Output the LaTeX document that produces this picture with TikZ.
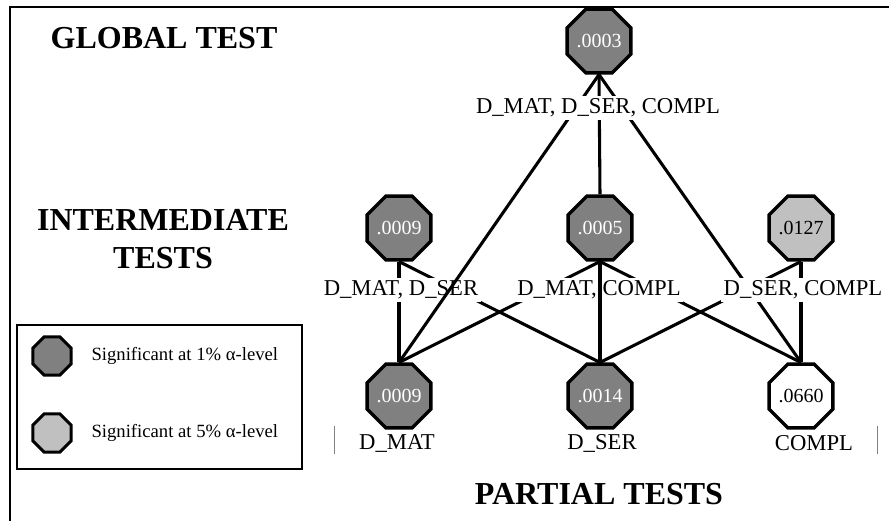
\documentclass[tikz,border=0pt]{standalone}
\usepackage{fontspec}
\setmainfont{Liberation Serif}
\usepackage{tikz}
\usetikzlibrary{shapes.geometric}

\definecolor{sigone}{RGB}{128,128,128}
\definecolor{sigfive}{RGB}{192,192,192}

\begin{document}
\begin{tikzpicture}[x=0.75pt,y=-0.75pt,node distance=150.75pt,line width=2.3pt,
			main node/.style={regular polygon,regular polygon sides=8,draw,line width=2.6pt,inner sep=0pt,minimum size=42pt,font=\fontsize{15}{15}\selectfont},
			one node/.style={main node,fill=sigone,text=white},
			five node/.style={main node,fill=sigfive},
			set node/.style={fill=white,inner sep=2pt,font=\fontsize{17}{20}\selectfont},
			title node/.style={font=\fontsize{24}{28.5}\selectfont\bfseries,align=center}];
			
			\useasboundingbox (0,0) rectangle (889,521);
			
			% partial tests
			\node[one node] (1) at (399,396) {.0009};
			\node[one node] (2) [right of=1] {.0014};
			\node[main node] (3) [right of=2] {.0660};
			% intermediate tests
			\node[one node] (12) at (399,228) {.0009};
			\node[one node] (13) [right of=12] {.0005};
			\node[five node] (23) [right of=13] {.0127};
			% global test
			\node[one node] (123) at (599,41) {.0003};
			
			\path (12.south) edge (1.north) edge (2.north)
			(13.south) edge (1.north) edge (3.north)
			(23.south) edge (2.north) edge (3.north)
			(123.south) edge (3.north);
			
			\node[set node] (s12) at (401,290) {D\_MAT, D\_SER};
			\node[set node] (s13) at (599,290) {D\_MAT, COMPL};
			\node[set node] (s23) at (803,290) {D\_SER, COMPL};
			
			\path (123.south) edge (1.north) edge (13.north)
			(13.south) edge (2.north);
			
			\node[set node] (s123) at (598,108) {D\_MAT, D\_SER, COMPL};
			
			\node[set node] (n1) at (397,443) {D\_MAT};
			\node[set node] (n2) at (602,443) {D\_SER};
			\node[set node] (n3) at (814,443) {COMPL};
			\draw[gray,line width=0.75pt] (334,426) -- (334,454) (877,426) -- (877,454);
			
			\node[title node] (glob) at (164,38) {GLOBAL TEST};
			\node[title node] (inter) at (163,239) {INTERMEDIATE\\TESTS};
			\node[title node] (part) at (599,494) {PARTIAL TESTS};
			
			% legend
			\draw[line width=1pt] (17,325) rectangle (302,469);
			\node[one node,minimum size=31pt,line width=2.2pt] (k1) at (52,356) {};
			\node[five node,minimum size=31pt,line width=2.2pt] (k5) at (52,433) {};
			\node[anchor=west,inner sep=0pt,font=\fontsize{14}{16}\selectfont] (t1) at (90,356) {Significant at 1\% α-level};
			\node[anchor=west,inner sep=0pt,font=\fontsize{14}{16}\selectfont] (t5) at (90,433) {Significant at 5\% α-level};
			
			\draw[line width=2pt] (889,7) -- (10,7) -- (10,521);
			
			\end{tikzpicture}
\end{document}
